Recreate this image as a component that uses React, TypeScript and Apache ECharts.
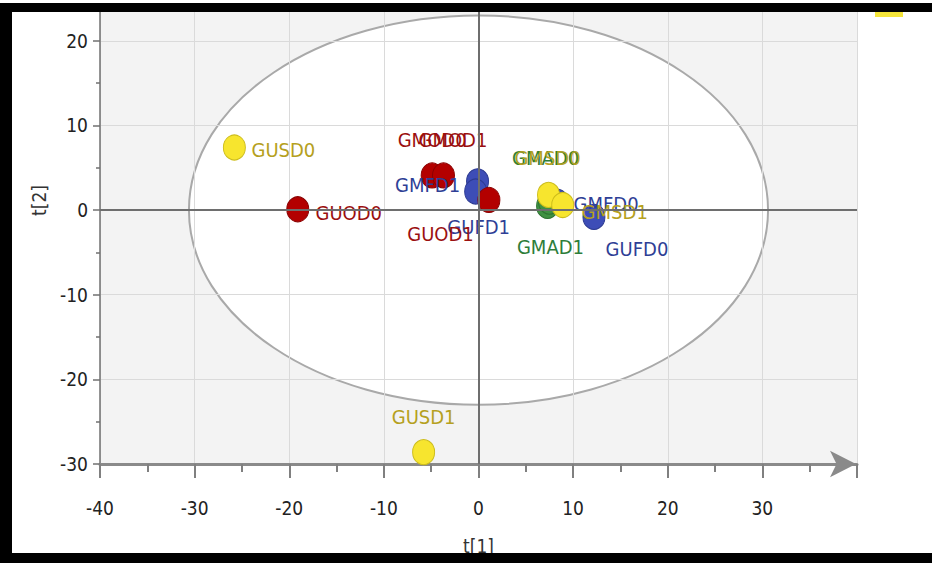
import React, { useEffect, useRef } from 'react';
import * as echarts from 'echarts';

// ---- data (scores t[1], t[2]) ----
const SD_NAMES = ['GUSD0', 'GUSD1', 'GMSD0', 'GMSD1'];
const SD_T1 = [-25.8, -5.8, 7.4, 8.9];
const SD_T2 = [7.4, -28.6, 1.8, 0.6];

const OD_NAMES = ['GUOD0', 'GMOD0', 'GUOD1', 'GMOD1'];
const OD_T1 = [-19.1, -4.9, -3.7, 1.1];
const OD_T2 = [0.1, 4.1, 4.1, 1.2];

const FD_NAMES = ['GMFD1', 'GUFD1', 'GMFD0', 'GUFD0'];
const FD_T1 = [-0.1, -0.3, 8.3, 12.2];
const FD_T2 = [3.4, 2.2, 1.0, -0.8];

const AD_NAMES = ['GMAD0', 'GMAD1'];
const AD_T1 = [7.3, 7.5];
const AD_T2 = [0.5, 1.0];

// Hotelling T2 ellipse semi-axes (t[1], t[2])
const ELLIPSE_RX = 30.6;
const ELLIPSE_RY = 23;

// ---- label layout (pixel offsets of label centres) ----
const SD_LABEL_OFFSETS = [[49, 3], [0, -35], [-1, -37], [52, 7]];
const OD_LABEL_OFFSETS = [[51, 4], [0, -35], [-3, 59], [-36, -60]];
const FD_LABEL_OFFSETS = [[-50, 4], [3, 36], [49, 2], [43, 32]];
const AD_LABEL_OFFSETS = [[-2, -48], [1, 45]];

const FONT = "'Liberation Sans Narrow', 'DejaVu Sans Condensed', 'Roboto Condensed', 'DejaVu Sans', sans-serif";

function buildSeries(
  names: string[], xs: number[], ys: number[], offs: number[][],
  fill: string, border: string, labelColor: string
) {
  return {
    type: 'scatter',
    z: 3,
    symbol: 'circle',
    symbolSize: [22, 25],
    itemStyle: { color: fill, borderColor: border, borderWidth: 1, opacity: 1 },
    data: names.map((n, i) => ({
      name: n,
      value: [xs[i], ys[i]],
      label: {
        show: true,
        position: 'inside',
        offset: offs[i],
        formatter: n,
        color: labelColor,
        fontSize: 20,
        fontFamily: FONT,
      },
    })),
  };
}

export default function App() {
  const ref = useRef<HTMLDivElement>(null);
  useEffect(() => {
    document.body.style.margin = '0';
    const chart = echarts.init(ref.current!, null, { renderer: 'svg' });
    const W = 932;
    const H = 563;
    chart.setOption({
      animation: false,
      backgroundColor: '#ffffff',
      grid: {
        show: true,
        backgroundColor: '#f3f3f3',
        borderWidth: 0,
        left: 100,
        right: 75,
        top: 7,
        bottom: 99,
        z: 0,
      },
      xAxis: {
        type: 'value',
        min: -40,
        max: 40,
        interval: 10,
        z: 2,
        name: 't[1]',
        nameLocation: 'middle',
        nameGap: 72,
        nameTextStyle: { fontSize: 19, color: '#333', fontFamily: FONT },
        axisLine: {
          onZero: false,
          show: true,
          symbol: ['none', 'arrow'],
          symbolSize: [20, 26],
          symbolOffset: [0, -1],
          lineStyle: { color: '#8a8a8a', width: 3 },
        },
        axisTick: { show: true, inside: false, length: 14, lineStyle: { color: '#808080', width: 2 } },
        minorTick: { show: true, splitNumber: 2, length: 8, lineStyle: { color: '#808080', width: 2 } },
        axisLabel: {
          margin: 34,
          fontSize: 19,
          color: '#222',
          fontFamily: FONT,
          formatter: (v: number) => (v >= 40 ? '' : String(v)),
        },
        splitLine: { show: true, lineStyle: { color: '#dadada', width: 1 } },
      },
      yAxis: {
        type: 'value',
        min: -30,
        max: 24,
        interval: 10,
        z: 2,
        name: 't[2]',
        nameLocation: 'middle',
        nameGap: 52,
        nameTextStyle: { fontSize: 19, color: '#333', fontFamily: FONT, padding: [0, 0, 0, 70] },
        axisLine: { show: true, onZero: false, lineStyle: { color: '#707070', width: 1.5 } },
        axisTick: { show: true, inside: false, length: 7, lineStyle: { color: '#707070', width: 1.5 } },
        minorTick: { show: true, splitNumber: 2, length: 4, lineStyle: { color: '#707070', width: 1.5 } },
        axisLabel: {
          margin: 12,
          fontSize: 19,
          color: '#222',
          fontFamily: FONT,
          formatter: (v: number) => (v % 10 === 0 ? String(v) : ''),
        },
        splitLine: { show: true, lineStyle: { color: '#dadada', width: 1 } },
      },
      series: [
        {
          type: 'custom',
          z: 1,
          silent: true,
          data: [[0, 0]],
          renderItem: (params: any, api: any) => {
            const c = api.coord([api.value(0), api.value(1)]);
            const sx = api.size([ELLIPSE_RX, 0])[0];
            const sy = api.size([0, ELLIPSE_RY])[1];
            return {
              type: 'ellipse',
              shape: { cx: c[0], cy: c[1], rx: sx, ry: sy },
              style: { fill: '#ffffff', stroke: '#a9a9a9', lineWidth: 2 },
            };
          },
          markLine: {
            silent: true,
            symbol: 'none',
            label: { show: false },
            lineStyle: { color: '#6e6e6e', width: 2, type: 'solid' },
            data: [{ xAxis: 0 }, { yAxis: 0 }],
          },
        },
        buildSeries(FD_NAMES, FD_T1, FD_T2, FD_LABEL_OFFSETS, '#3d4db7', '#2c3a92', '#2f3f96'),
        buildSeries(AD_NAMES, AD_T1, AD_T2, AD_LABEL_OFFSETS, '#3f9142', '#2e7332', '#2e7d3a'),
        buildSeries(OD_NAMES, OD_T1, OD_T2, OD_LABEL_OFFSETS, '#b30000', '#8a0000', '#9b1010'),
        buildSeries(SD_NAMES, SD_T1, SD_T2, SD_LABEL_OFFSETS, '#f7e52e', '#cdbd1a', '#b5a020'),
      ],
      graphic: [
        { type: 'rect', z: 100, shape: { x: 0, y: 3, width: W, height: 9 }, style: { fill: '#000' } },
        { type: 'rect', z: 100, shape: { x: 0, y: 3, width: 12, height: H - 3 }, style: { fill: '#000' } },
        { type: 'rect', z: 100, shape: { x: 0, y: 553, width: W, height: 10 }, style: { fill: '#000' } },
        { type: 'rect', z: 100, shape: { x: 875, y: 12, width: 28, height: 5 }, style: { fill: '#f5e53a' } },
      ],
    });
    return () => chart.dispose();
  }, []);
  return <div ref={ref} style={{ width: 932, height: 563 }} />;
}
